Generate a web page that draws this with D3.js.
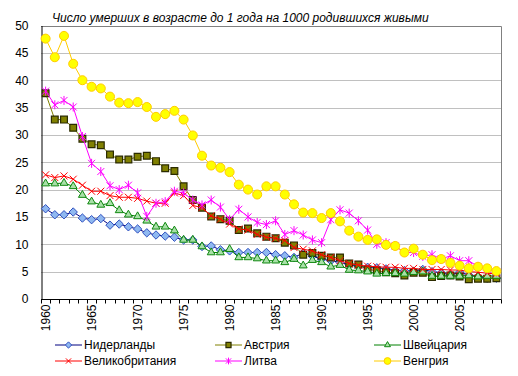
<!DOCTYPE html>
<html>
<head>
<meta charset="utf-8">
<script src="https://cdn.jsdelivr.net/npm/d3@7"></script>
<style>
  body { margin: 0; background: #fff; }
  svg { display: block; font-family: Arial, "Liberation Sans", sans-serif; }
</style>
</head>
<body>
<div id="chart"></div>
<script>
const title = 'Число умерших в возрасте до 1 года на 1000 родившихся живыми';
const years = d3.range(1960, 2010);
const yTicks = [0, 5, 10, 15, 20, 25, 30, 35, 40, 45, 50];

// values
const netherlands = [16.5, 15.4, 15.4, 15.9, 14.8, 14.5, 14.7, 13.5, 13.7, 13.2,
  12.8, 12.1, 11.7, 11.5, 11.3, 10.8, 10.8, 9.6, 9.7, 9.0,
  8.8, 8.5, 8.5, 8.5, 8.5, 8.1, 7.9, 7.6, 8.4, 7.8,
  7.3, 7.0, 6.7, 6.3, 6.0, 5.8, 5.7, 5.5, 5.2, 5.2,
  5.1, 5.4, 5.0, 4.8, 4.4, 4.9, 4.4, 4.1, 3.8, 3.8];
const austria = [37.6, 32.8, 32.8, 31.3, 29.3, 28.3, 28.1, 26.4, 25.5, 25.5,
  26.0, 26.2, 25.2, 23.9, 23.4, 20.6, 18.1, 16.7, 15.1, 14.6,
  14.3, 12.6, 12.9, 12.0, 11.4, 11.1, 10.3, 9.8, 8.1, 8.4,
  7.9, 7.6, 7.6, 6.5, 6.3, 5.4, 5.2, 4.9, 4.7, 4.3,
  4.8, 4.8, 4.0, 4.2, 4.3, 4.1, 3.6, 3.7, 3.7, 3.8];
const switzerland = [21.1, 21.1, 21.2, 20.6, 19.0, 17.8, 17.2, 17.5, 16.2, 15.4,
  15.1, 14.3, 13.2, 13.2, 12.5, 10.8, 10.8, 9.6, 8.5, 8.5,
  9.1, 7.6, 7.6, 7.4, 7.0, 7.0, 6.7, 7.3, 6.1, 7.1,
  6.7, 5.9, 6.2, 5.3, 5.2, 5.0, 4.6, 4.7, 4.7, 4.6,
  4.9, 5.0, 4.2, 4.2, 4.2, 4.2, 4.3, 4.1, 4.2, 4.2];
const britain = [22.7, 22.2, 22.5, 21.9, 20.8, 19.7, 19.7, 18.9, 18.6, 18.6,
  18.4, 17.9, 17.5, 17.5, 19.4, 18.9, 17.1, 16.7, 15.2, 14.6,
  13.7, 12.8, 12.6, 11.8, 11.3, 11.1, 10.7, 9.4, 9.1, 8.8,
  8.1, 7.6, 7.0, 6.5, 6.2, 6.0, 5.9, 5.8, 5.8, 5.6,
  5.6, 5.4, 5.4, 5.4, 5.3, 5.3, 5.0, 4.9, 4.7, 4.6];
const lithuania = [38.0, 35.5, 36.3, 35.1, 29.7, 24.8, 23.3, 20.7, 20.0, 20.8,
  19.4, 15.1, 17.5, 17.8, 19.7, 19.4, 18.1, 17.2, 18.1, 16.8,
  14.5, 16.4, 15.0, 14.0, 13.6, 14.3, 11.8, 12.5, 11.7, 10.8,
  10.3, 14.5, 16.3, 15.7, 14.3, 12.6, 10.0, 10.3, 9.7, 8.5,
  8.5, 7.8, 8.1, 7.3, 7.9, 7.0, 7.0, 5.9, 5.4, 4.9];
const hungary = [47.6, 44.2, 48.1, 43.0, 40.0, 38.8, 38.5, 37.0, 35.9, 35.8,
  36.0, 35.1, 33.3, 33.8, 34.4, 32.8, 29.9, 26.2, 24.4, 24.0,
  23.2, 20.9, 20.0, 19.1, 20.6, 20.6, 19.1, 17.3, 15.8, 15.7,
  14.8, 15.7, 14.2, 12.5, 11.4, 10.8, 10.9, 9.9, 9.7, 8.5,
  9.2, 8.1, 7.1, 7.3, 6.6, 6.1, 5.6, 5.9, 5.6, 5.1];

const series = [
  { name: 'Нидерланды', values: netherlands, line: '#000080', marker: 'diamond', fill: '#8fb8f0', stroke: '#3050c0' },
  { name: 'Австрия', values: austria, line: '#808000', marker: 'square', fill: '#808000', stroke: '#2b2b00' },
  { name: 'Швейцария', values: switzerland, line: '#008000', marker: 'triangle', fill: '#a8e0a8', stroke: '#108810' },
  { name: 'Великобритания', values: britain, line: '#ff0000', marker: 'cross', fill: 'none', stroke: '#ff0000' },
  { name: 'Литва', values: lithuania, line: '#ff00ff', marker: 'star', fill: 'none', stroke: '#ff00ff' },
  { name: 'Венгрия', values: hungary, line: '#ffcc00', marker: 'circle', fill: '#ffff00', stroke: '#ffcc00' }
];

const width = 518, height = 376;
const plot = { left: 41, right: 501, top: 25.5, bottom: 299 };

const svg = d3.select('#chart').append('svg')
  .attr('width', width).attr('height', height);

const x = d3.scaleBand().domain(years).range([plot.left, plot.right]);
const y = d3.scaleLinear().domain([0, 50]).range([plot.bottom, plot.top]);
const cx = d => x(d) + x.bandwidth() / 2;

// gridlines
svg.append('g').selectAll('line')
  .data(yTicks.filter(t => t > 0 && t < 50))
  .enter().append('line')
  .attr('x1', plot.left).attr('x2', plot.right)
  .attr('y1', d => Math.round(y(d)) + 0.5).attr('y2', d => Math.round(y(d)) + 0.5)
  .attr('stroke', '#c0c0c0');

// top and right frame
svg.append('path')
  .attr('d', `M${plot.left},${Math.round(plot.top) + 0.5}H${plot.right + 0.5}V${plot.bottom}`)
  .attr('fill', 'none').attr('stroke', '#808080');

// y axis
const yAxis = svg.append('g').attr('transform', `translate(${plot.left + 0.5},0)`)
  .call(d3.axisLeft(y).tickValues(yTicks).tickSize(0).tickPadding(13));
yAxis.select('.domain').attr('stroke', '#000');
yAxis.selectAll('text').attr('font-size', 12).attr('fill', '#000')
  .attr('font-family', 'Arial, "Liberation Sans", sans-serif');

// x axis: ticks between categories, labels every 5 years
const xg = svg.append('g').attr('transform', `translate(0,${plot.bottom + 0.5})`);
xg.append('line').attr('x1', plot.left).attr('x2', plot.right + 0.5).attr('stroke', '#000');
xg.selectAll('line.tick')
  .data(years.concat([2010]))
  .enter().append('line').attr('class', 'tick')
  .attr('x1', (d, i) => Math.round(plot.left + i * x.bandwidth()) + 0.5)
  .attr('x2', (d, i) => Math.round(plot.left + i * x.bandwidth()) + 0.5)
  .attr('y1', 0).attr('y2', 4).attr('stroke', '#000');
xg.selectAll('text')
  .data(years.filter(d => d % 5 === 0))
  .enter().append('text')
  .attr('transform', d => `translate(${cx(d)},5) rotate(-90)`)
  .attr('text-anchor', 'end').attr('dy', '0.35em')
  .attr('font-size', 12).text(d => d);

// markers
function drawMarker(sel, type, fill, stroke, k) {
  k = k || 1;
  let p;
  if (type === 'cross') {
    p = sel.append('path').attr('d', 'M-3.5,-3.5L3.5,3.5M-3.5,3.5L3.5,-3.5').attr('fill', 'none');
  } else if (type === 'star') {
    p = sel.append('path').attr('d', 'M-3.5,-3.5L3.5,3.5M-3.5,3.5L3.5,-3.5M0,-4.5V4.5').attr('fill', 'none');
  } else if (type === 'diamond') {
    p = sel.append('path').attr('d', 'M0,-4.2L4.2,0L0,4.2L-4.2,0Z').attr('fill', fill);
  } else {
    const sym = { square: d3.symbolSquare, triangle: d3.symbolTriangle, circle: d3.symbolCircle }[type];
    const size = { square: 46, triangle: 27, circle: 64 }[type];
    p = sel.append('path').attr('d', d3.symbol(sym, size)()).attr('fill', fill);
  }
  p.attr('stroke', stroke).attr('stroke-width', (type === 'square' ? 1.2 : 1) / k);
  if (k !== 1) p.attr('transform', `scale(${k})`);
}

const line = d3.line().x(d => cx(d.year)).y(d => y(d.value));

series.forEach(s => {
  const pts = years.map((yr, i) => ({ year: yr, value: s.values[i] }));
  const g = svg.append('g');
  g.append('path').datum(pts).attr('d', line)
    .attr('fill', 'none').attr('stroke', s.line).attr('stroke-width', 1);
  g.selectAll('g.m').data(pts).enter().append('g').attr('class', 'm')
    .attr('transform', d => `translate(${cx(d.year)},${y(d.value)})`)
    .each(function () { drawMarker(d3.select(this), s.marker, s.fill, s.stroke); });
});

// title
svg.append('text').attr('x', 52).attr('y', 22)
  .attr('font-size', 12).attr('font-style', 'italic').text(title);

// legend
const legendCols = [55, 215, 374];
const legendRows = [345, 361];
series.forEach((s, i) => {
  const lx = legendCols[i % 3], ly = legendRows[Math.floor(i / 3)];
  const g = svg.append('g').attr('transform', `translate(${lx},${ly})`);
  g.append('line').attr('x1', 0).attr('x2', 27).attr('stroke', s.line);
  const m = g.append('g').attr('transform', 'translate(13.5,0)');
  drawMarker(m, s.marker, s.fill, s.stroke, 0.75);
  g.append('text').attr('x', 29).attr('dy', '0.35em').attr('font-size', 12).text(s.name);
});
</script>
</body>
</html>
